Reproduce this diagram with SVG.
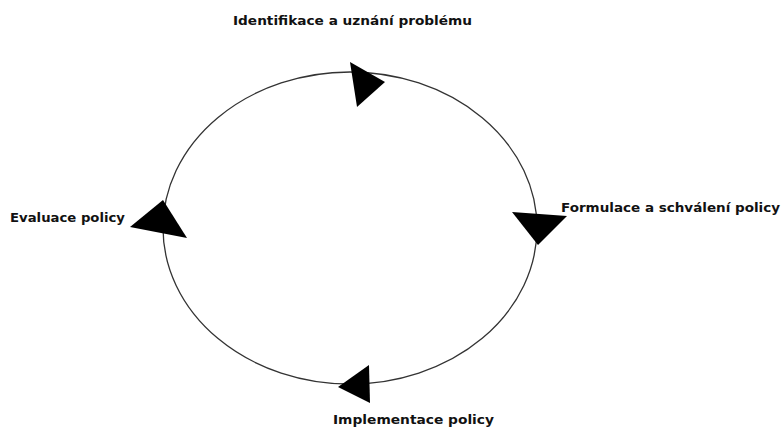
<svg xmlns="http://www.w3.org/2000/svg" width="783" height="431" viewBox="0 0 783 431">
<style>
.lbl{font-family:"DejaVu Sans","Liberation Sans",sans-serif;font-weight:bold;font-size:12px;fill:#111}
.arr{fill:#000}
.ring{fill:none;stroke:#333;stroke-width:1.3}
</style>
<rect width="783" height="431" fill="#fff"/>
<g id="connectors">
<ellipse class="ring" cx="350" cy="228" rx="187" ry="156"/>
<polygon class="arr" points="350,62 385,82 357,107"/>
<polygon class="arr" points="512,212 567,216 538,245"/>
<polygon class="arr" points="369,365 338,387 370,403"/>
<polygon class="arr" points="163,200 130,227 187,238"/>
</g>
<g id="n1"><text class="lbl" x="233" y="25" textLength="239" lengthAdjust="spacingAndGlyphs">Identifikace a uznání problému</text></g>
<g id="n2"><text class="lbl" x="561" y="212" textLength="219" lengthAdjust="spacingAndGlyphs">Formulace a schválení policy</text></g>
<g id="n3"><text class="lbl" x="333" y="424" textLength="161" lengthAdjust="spacingAndGlyphs">Implementace policy</text></g>
<g id="n4"><text class="lbl" x="10" y="222" textLength="115" lengthAdjust="spacingAndGlyphs">Evaluace policy</text></g>
</svg>
